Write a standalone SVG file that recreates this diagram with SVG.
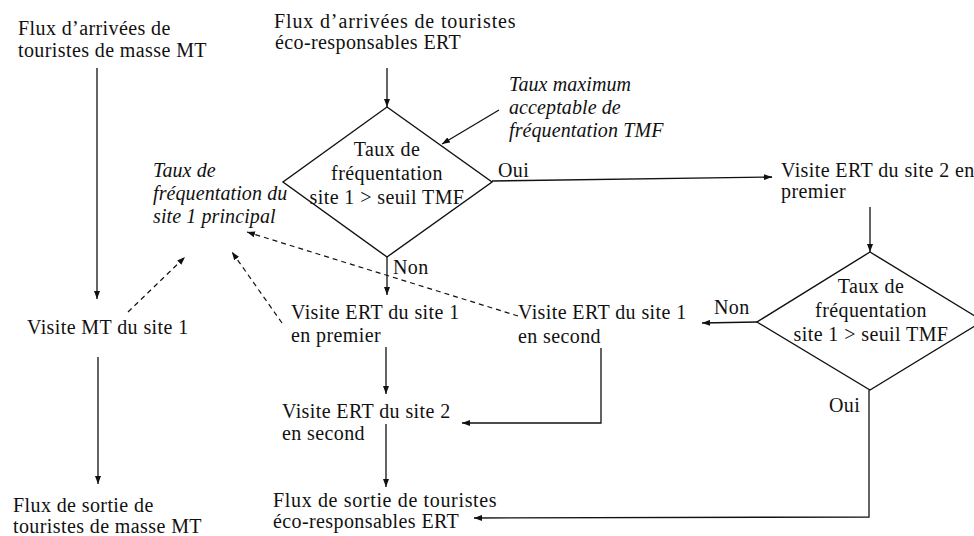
<svg xmlns="http://www.w3.org/2000/svg" width="974" height="536" viewBox="0 0 974 536">
<defs>
<style>
text{font-family:"Liberation Serif","Times New Roman",serif;font-size:20px;fill:#111;letter-spacing:0.4px}
.it{font-style:italic;letter-spacing:0.1px}
.c{text-anchor:middle}
.ln{fill:none;stroke:#111;stroke-width:1.3}
.dash{fill:none;stroke:#111;stroke-width:1.2;stroke-dasharray:5 4}
.shape{fill:none;stroke:#111;stroke-width:1.4}
</style>
<marker id="ah" markerUnits="userSpaceOnUse" markerWidth="8" markerHeight="6" refX="8" refY="3" orient="auto">
<path d="M0,0 L8,3 L0,6 z" fill="#111"/>
</marker>
</defs>
<rect width="974" height="536" fill="#fff"/>

<g id="mt_in"><text x="18" y="35">Flux d’arrivées de</text><text x="18" y="57">touristes de masse MT</text></g>
<g id="ert_in"><text x="274" y="28" textLength="242">Flux d’arrivées de touristes</text><text x="275" y="49">éco-responsables ERT</text></g>
<g id="tmf_label"><text class="it" x="509" y="91">Taux maximum</text><text class="it" x="509" y="114">acceptable de</text><text class="it" x="509" y="137">fréquentation TMF</text></g>
<g id="taux_label"><text class="it" x="153" y="177">Taux de</text><text class="it" x="153" y="200">fréquentation du</text><text class="it" x="153" y="223">site 1 principal</text></g>
<g id="decision1"><polygon class="shape" points="387,107 492,182 387,257 283,182"/><text class="c" x="387" y="156">Taux de</text><text class="c" x="387" y="180">fréquentation</text><text class="c" x="387" y="204">site 1 &gt; seuil TMF</text></g>
<g id="visite_mt"><text x="27" y="334">Visite MT du site 1</text></g>
<g id="ert_site1_first"><text x="291" y="319">Visite ERT du site 1</text><text x="291" y="342">en premier</text></g>
<g id="ert_site2_first"><text x="781" y="177">Visite ERT du site 2 en</text><text x="781" y="198">premier</text></g>
<g id="decision2"><polygon class="shape" points="870,252 983,321 870,390 757,322"/><text class="c" x="871" y="293">Taux de</text><text class="c" x="871" y="317">fréquentation</text><text class="c" x="871" y="341">site 1 &gt; seuil TMF</text></g>
<g id="ert_site1_second"><text x="518" y="319">Visite ERT du site 1</text><text x="518" y="343">en second</text></g>
<g id="ert_site2_second"><text x="282" y="418">Visite ERT du site 2</text><text x="282" y="440">en second</text></g>
<g id="mt_out"><text x="13" y="512">Flux de sortie de</text><text x="13" y="533">touristes de masse MT</text></g>
<g id="ert_out"><text x="273" y="507" textLength="224">Flux de sortie de touristes</text><text x="273" y="528">éco-responsables ERT</text></g>

<g id="connectors">
<line class="ln" x1="97" y1="68" x2="97" y2="299" marker-end="url(#ah)"/>
<line class="ln" x1="98" y1="357" x2="98" y2="484" marker-end="url(#ah)"/>
<line class="ln" x1="387" y1="68" x2="387" y2="107" marker-end="url(#ah)"/>
<line class="ln" x1="499" y1="110" x2="442" y2="144" marker-end="url(#ah)"/>
<line class="ln" x1="492" y1="181" x2="772" y2="177" marker-end="url(#ah)"/>
<line class="ln" x1="387" y1="257" x2="387" y2="295" marker-end="url(#ah)"/>
<line class="ln" x1="386" y1="347" x2="386" y2="394" marker-end="url(#ah)"/>
<line class="ln" x1="386" y1="424" x2="386" y2="487" marker-end="url(#ah)"/>
<line class="ln" x1="870" y1="207" x2="870" y2="252" marker-end="url(#ah)"/>
<line class="ln" x1="757" y1="322" x2="702" y2="323" marker-end="url(#ah)"/>
<polyline class="ln" points="601,348 601,423 462,423" marker-end="url(#ah)"/>
<polyline class="ln" points="869,390 869,517 474,518" marker-end="url(#ah)"/>
<line class="dash" x1="128" y1="312" x2="185" y2="257" marker-end="url(#ah)"/>
<line class="dash" x1="282" y1="323" x2="232" y2="252" marker-end="url(#ah)"/>
<line class="dash" x1="518" y1="316" x2="247" y2="232" marker-end="url(#ah)"/>
<text x="498" y="177">Oui</text>
<text x="393" y="274">Non</text>
<text x="714" y="314">Non</text>
<text x="829" y="412">Oui</text>
</g>
</svg>
